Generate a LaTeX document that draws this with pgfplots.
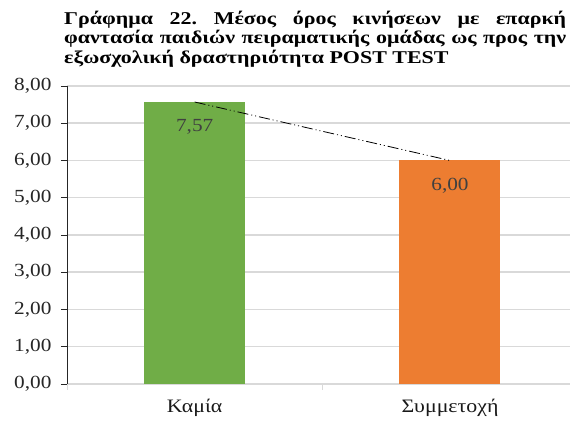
\documentclass[border=0pt]{standalone}
\usepackage{fontspec}
\setmainfont{Liberation Serif}[FakeStretch=1.15]
\newfontfamily\titlefont{Liberation Serif}[FakeStretch=1.22]
\usepackage{pgfplots}
\pgfplotsset{compat=1.18}
\definecolor{bargreen}{HTML}{70AD47}
\definecolor{barorange}{HTML}{ED7D31}
\definecolor{gridgray}{HTML}{D9D9D9}
\definecolor{labgray}{HTML}{404040}
\begin{document}
\begin{tikzpicture}
\useasboundingbox (0,0) rectangle (570pt,422pt);
\node[anchor=north west, text width=502pt, inner sep=0pt, font=\titlefont\fontsize{18}{19.3}\selectfont\bfseries, align=justify] at (64pt,411pt)
 {\frenchspacing\hyphenpenalty=10000 Γράφημα 22. Μέσος όρος κινήσεων με επαρκή\linebreak φαντασία παιδιών πειραματικής ομάδας ως προς την\linebreak εξωσχολική δραστηριότητα POST TEST};
\begin{axis}[
  at={(67pt,38pt)}, anchor=south west,
  scale only axis, width=503pt, height=298pt,
  xmin=-0.5, xmax=1.47, ymin=0, ymax=8,
  ytick={0,1,...,8},
  xtick={-0.5,0.5}, xticklabels={},
  extra x ticks={0,1}, extra x tick labels={Καμία, Συμμετοχή},
  extra x tick style={major tick length=0pt, grid=none},
  major tick length=6pt,
  tick align=outside,
  x tick style={draw=gridgray, line width=1pt},
  y tick style={draw=black!85, line width=0.8pt},
  axis lines*=left,
  x axis line style={draw=gridgray, line width=1.5pt},
  y axis line style={draw=black!85, line width=0.8pt},
  ymajorgrids, grid style={draw=gridgray, line width=1.5pt},
  /pgf/number format/.cd, fixed, fixed zerofill, precision=2, use comma, assume math mode=true,
  /pgfplots/.cd,
  yticklabel style={font=\fontsize{18.5}{20}\selectfont, text=black!85, xshift=-6pt},
  xticklabel style={font=\fontsize{19}{20}\selectfont, text=black!90, yshift=-12pt},
  ybar, bar width=101pt, bar shift=0pt,
  nodes near coords,
  every node near coord/.append style={font=\fontsize{18.5}{20}\selectfont, text=labgray, anchor=center, yshift=-25pt},
  clip=false,
]
\addplot[fill=bargreen, draw=none] coordinates {(0,7.57)};
\addplot[fill=barorange, draw=none] coordinates {(1,6.00)};
\addplot[sharp plot, black, line width=0.8pt, dash pattern=on 11pt off 3pt on 1pt off 3pt on 1pt off 3pt, nodes near coords={}, forget plot] coordinates {(0,7.57) (1,6.00)};
\end{axis}
\end{tikzpicture}
\end{document}
